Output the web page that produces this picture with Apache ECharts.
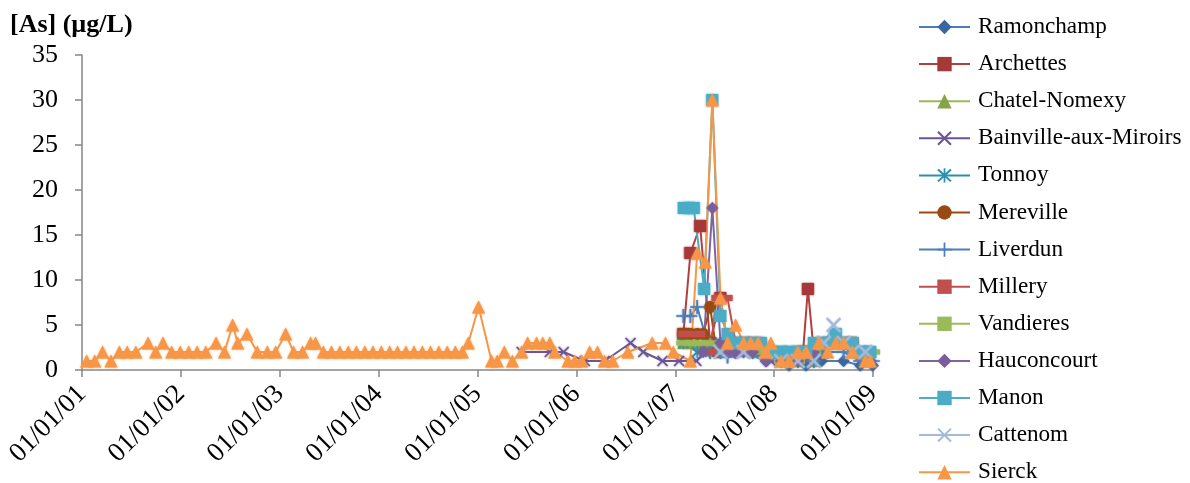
<!DOCTYPE html>
<html>
<head>
<meta charset="utf-8">
<script src="https://cdn.jsdelivr.net/npm/echarts@6/dist/echarts.min.js"></script>
<style>
html,body{margin:0;padding:0;background:#fff;}
#chart{width:1190px;height:483px;}
</style>
</head>
<body>
<div id="chart"></div>
<script>
// ---- data: [date, [As] µg/L] ----
const ramonchamp = [['2007-06-17',2],['2007-09-10',2],['2007-12-02',1],['2008-02-25',0.5],['2008-04-28',0.5],['2008-06-25',1],['2008-09-14',1],['2008-11-15',0.5],['2008-12-31',0.5]];
const archettes = [['2007-01-31',4],['2007-02-26',13],['2007-04-03',16],['2007-05-10',3],['2007-06-17',8],['2007-07-13',3],['2007-08-30',3],['2007-10-14',3],['2007-12-02',2],['2008-01-27',2],['2008-03-29',2],['2008-04-17',2],['2008-05-05',9],['2008-05-27',2],['2008-07-17',3],['2008-09-14',3],['2008-10-17',3],['2008-12-04',2]];
const chatelNomexy = [['2007-01-31',3],['2007-02-26',3],['2007-03-23',3],['2007-05-10',3],['2007-06-17',2],['2007-08-12',3],['2007-10-14',2],['2007-12-02',2],['2008-01-27',1],['2008-03-29',1],['2008-05-27',1],['2008-07-03',3],['2008-08-16',3],['2008-10-17',2],['2008-12-22',2]];
const bainville = [['2005-06-13',2],['2005-09-25',2],['2005-11-15',2],['2006-02-01',1],['2006-04-15',1],['2006-07-20',3],['2006-09-05',2],['2006-11-15',1],['2007-01-15',1],['2007-03-20',1],['2007-04-22',2],['2007-06-17',2],['2007-08-12',2],['2007-10-14',2],['2007-12-20',1],['2008-02-25',1],['2008-04-28',1],['2008-06-14',2],['2008-08-16',3],['2008-10-17',2],['2008-12-22',1]];
const tonnoy = [['2007-01-31',3],['2007-03-23',2],['2007-05-10',2],['2007-06-17',3],['2007-08-12',3],['2007-10-14',2],['2007-12-20',2],['2008-02-25',1],['2008-04-28',2],['2008-06-25',2],['2008-08-16',3],['2008-10-17',2],['2008-12-22',2]];
const mereville = [['2007-01-31',4],['2007-02-26',4],['2007-03-23',4],['2007-04-14',4],['2007-05-10',7],['2007-06-02',2],['2007-07-13',2],['2007-08-12',2],['2007-09-29',3],['2007-11-13',3],['2007-12-20',2],['2008-02-25',2],['2008-04-28',2],['2008-06-14',3],['2008-08-16',3],['2008-10-17',3],['2008-12-04',2]];
const liverdun = [['2007-01-31',6],['2007-02-26',6],['2007-03-23',7],['2007-05-10',2],['2007-06-17',2],['2007-07-13',1.5],['2007-08-12',2],['2007-10-14',2],['2007-12-02',2],['2008-01-27',1],['2008-03-29',1],['2008-05-27',1],['2008-07-17',2],['2008-09-14',2],['2008-11-15',1],['2008-12-31',1]];
const millery = [['2007-01-31',4],['2007-02-26',4],['2007-04-03',4],['2007-05-10',2],['2007-06-02',8],['2007-07-13',8],['2007-08-12',3],['2007-10-14',3],['2007-12-02',2],['2008-02-25',2],['2008-04-28',2],['2008-06-25',3],['2008-08-16',3],['2008-10-17',3],['2008-12-04',2]];
const vandieres = [['2007-01-31',3],['2007-02-26',3],['2007-04-03',3],['2007-05-10',3],['2007-07-13',2],['2007-09-10',3],['2007-11-13',2],['2008-01-27',1],['2008-03-29',1],['2008-05-27',2],['2008-07-17',3],['2008-09-14',3],['2008-11-15',2],['2009-01-01',2]];
const hauconcourt = [['2007-04-14',2],['2007-05-18',18],['2007-06-17',3],['2007-07-13',2],['2007-08-12',2],['2007-09-10',2],['2007-10-14',2],['2007-12-02',1],['2008-01-27',1],['2008-03-29',1],['2008-05-27',2],['2008-07-17',3],['2008-09-14',3],['2008-11-15',2],['2008-12-22',1]];
const manon = [['2007-02-01',18],['2007-02-20',18],['2007-03-10',18],['2007-04-18',9],['2007-05-18',30],['2007-06-17',6],['2007-07-13',4],['2007-08-12',3],['2007-09-10',3],['2007-10-14',3],['2007-11-13',3],['2007-12-20',2],['2008-01-27',2],['2008-02-25',2],['2008-03-29',2],['2008-04-28',2],['2008-05-27',3],['2008-06-25',3],['2008-07-17',3],['2008-08-16',4],['2008-09-14',3],['2008-10-17',3],['2008-11-15',2],['2008-12-22',2]];
const cattenom = [['2007-06-17',2],['2007-09-10',2],['2007-12-02',2],['2008-01-27',1],['2008-03-29',1],['2008-05-27',1],['2008-07-03',3],['2008-08-08',5],['2008-09-14',3],['2008-10-17',2],['2008-12-04',2]];
const sierck = [
['2001-01-18',1],['2001-02-17',1],['2001-03-18',2],['2001-04-18',1],['2001-05-19',2],['2001-06-17',2],['2001-07-19',2],['2001-09-02',3],['2001-09-30',2],['2001-10-27',3],['2001-11-28',2],['2001-12-30',2],
['2002-01-30',2],['2002-03-02',2],['2002-04-03',2],['2002-05-11',3],['2002-06-11',2],['2002-07-11',5],['2002-07-30',3],['2002-09-02',4],['2002-10-10',2],['2002-11-16',2],['2002-12-17',2],
['2003-01-23',4],['2003-02-21',2],['2003-03-26',2],['2003-04-25',3],['2003-05-13',3],['2003-06-11',2],['2003-07-11',2],['2003-08-11',2],['2003-09-11',2],['2003-10-11',2],['2003-11-11',2],['2003-12-11',2],
['2004-01-11',2],['2004-02-11',2],['2004-03-11',2],['2004-04-11',2],['2004-05-11',2],['2004-06-11',2],['2004-07-11',2],['2004-08-11',2],['2004-09-11',2],['2004-10-11',2],['2004-11-06',2],['2004-11-28',3],
['2005-01-05',7],['2005-02-22',1],['2005-03-15',1],['2005-04-10',2],['2005-05-10',1],['2005-06-13',2],['2005-07-05',3],['2005-08-07',3],['2005-08-30',3],['2005-09-25',3],['2005-10-13',2],['2005-12-01',1],['2005-12-26',1],
['2006-01-21',1],['2006-02-19',2],['2006-03-20',2],['2006-04-15',1],['2006-05-15',1],['2006-07-10',2],['2006-10-08',3],['2006-11-26',3],['2006-12-25',2],
['2007-02-26',1],['2007-03-23',13],['2007-04-22',12],['2007-05-18',30],['2007-06-17',8],['2007-07-13',3],['2007-08-12',5],['2007-09-10',3],['2007-10-07',3],['2007-11-03',3],['2007-12-02',2],['2007-12-20',3],
['2008-01-27',1],['2008-02-25',1],['2008-03-29',2],['2008-04-28',2],['2008-06-14',3],['2008-07-17',2],['2008-08-16',3],['2008-09-14',3],['2008-10-17',2],['2008-12-04',1],['2008-12-22',1]
];
const yearTicks = ['01/01/01','01/01/02','01/01/03','01/01/04','01/01/05','01/01/06','01/01/07','01/01/08','01/01/09'];
const yTitle = '[As] (µg/L)';

// ---- helpers ----
function toYear(s){
  const p = s.split('-').map(Number);
  const t = Date.UTC(p[0], p[1]-1, p[2]);
  const a = Date.UTC(p[0],0,1), b = Date.UTC(p[0]+1,0,1);
  return p[0] + (t-a)/(b-a);
}
const X_SYM = 'path://M1,0 L5,4 L9,0 L10,1 L6,5 L10,9 L9,10 L5,6 L1,10 L0,9 L4,5 L0,1 Z';
const PLUS_SYM = 'path://M4.4,0 H5.6 V4.4 H10 V5.6 H5.6 V10 H4.4 V5.6 H0 V4.4 H4.4 Z';
const STAR_SYM = 'path://M1,0 L5,4 L9,0 L10,1 L6,5 L10,9 L9,10 L5,6 L1,10 L0,9 L4,5 L0,1 Z M4.4,-0.5 H5.6 V10.5 H4.4 Z';

const defs = [
  {name:'Ramonchamp', data:ramonchamp, color:'#4A7EBB', mcolor:'#3B66A0', symbol:'diamond', size:12},
  {name:'Archettes', data:archettes, color:'#B0403D', mcolor:'#A5393A', symbol:'rect', size:12},
  {name:'Chatel-Nomexy', data:chatelNomexy, color:'#98B954', mcolor:'#86A447', symbol:'triangle', size:12},
  {name:'Bainville-aux-Miroirs', data:bainville, color:'#6A5496', mcolor:'#6A5496', symbol:X_SYM, size:11},
  {name:'Tonnoy', data:tonnoy, color:'#2E8FAB', mcolor:'#2E8FAB', symbol:STAR_SYM, size:12},
  {name:'Mereville', data:mereville, color:'#9A4A10', mcolor:'#9A4A10', symbol:'circle', size:12},
  {name:'Liverdun', data:liverdun, color:'#4A7EBB', mcolor:'#4A7EBB', symbol:PLUS_SYM, size:14},
  {name:'Millery', data:millery, color:'#C0504D', mcolor:'#C0504D', symbol:'rect', size:[10,6]},
  {name:'Vandieres', data:vandieres, color:'#9BBB59', mcolor:'#9BBB59', symbol:'rect', size:[14,5]},
  {name:'Hauconcourt', data:hauconcourt, color:'#8064A2', mcolor:'#7A5E9C', symbol:'diamond', size:12},
  {name:'Manon', data:manon, color:'#4BACC6', mcolor:'#4BACC6', symbol:'rect', size:12},
  {name:'Cattenom', data:cattenom, color:'#A5B9DA', mcolor:'#A5B9DA', symbol:X_SYM, size:15},
  {name:'Sierck', data:sierck, color:'#F79646', mcolor:'#F79646', symbol:'triangle', size:13}
];

const series = defs.map(d => ({
  name: d.name,
  type: 'line',
  data: d.data.map(p => [toYear(p[0]), p[1]]),
  symbol: d.symbol,
  symbolSize: d.size,
  symbolKeepAspect: true,
  showSymbol: true,
  showAllSymbol: true,
  lineStyle: {color: d.color, width: 2},
  itemStyle: {color: d.mcolor, borderWidth: 0, shadowBlur: 2, shadowColor: d.mcolor},
  emphasis: {disabled: true},
  animation: false
}));

const serif = '"Liberation Serif", "DejaVu Serif", serif';
const chart = echarts.init(document.getElementById('chart'), null, {renderer:'canvas'});
chart.setOption({
  animation: false,
  backgroundColor: '#fff',
  title: {
    text: yTitle, left: 10, top: 12, padding: 0,
    textStyle: {fontFamily: serif, fontWeight: 'bold', fontSize: 26, color: '#000'}
  },
  legend: {
    orient: 'vertical', left: 918, top: 15, padding: 0, height: 520,
    itemWidth: 51, itemHeight: 18, itemGap: 13.1,
    textStyle: {fontFamily: serif, fontSize: 23.2, color: '#000', lineHeight: 24, padding: [0,0,0,3]},
    data: defs.map(d => d.name)
  },
  grid: {left: 82, right: 317, top: 55, bottom: 113, containLabel: false},
  xAxis: {
    type: 'value', min: 2001, max: 2009, interval: 1,
    axisLine: {show: true, lineStyle: {color: '#868686', width: 1.5}},
    axisTick: {show: true, length: 7, lineStyle: {color: '#868686', width: 1.5}},
    splitLine: {show: false},
    axisLabel: {
      rotate: 45, margin: 20, fontFamily: serif, fontSize: 27, color: '#000',
      formatter: v => yearTicks[Math.round(v) - 2001] || ''
    }
  },
  yAxis: {
    type: 'value', min: 0, max: 35, interval: 5,
    axisLine: {show: true, lineStyle: {color: '#868686', width: 1.5}},
    axisTick: {show: true, length: 7, lineStyle: {color: '#868686', width: 1.5}},
    splitLine: {show: false},
    axisLabel: {margin: 24, fontFamily: serif, fontSize: 26, color: '#000'}
  },
  series: series
});
</script>
</body>
</html>
